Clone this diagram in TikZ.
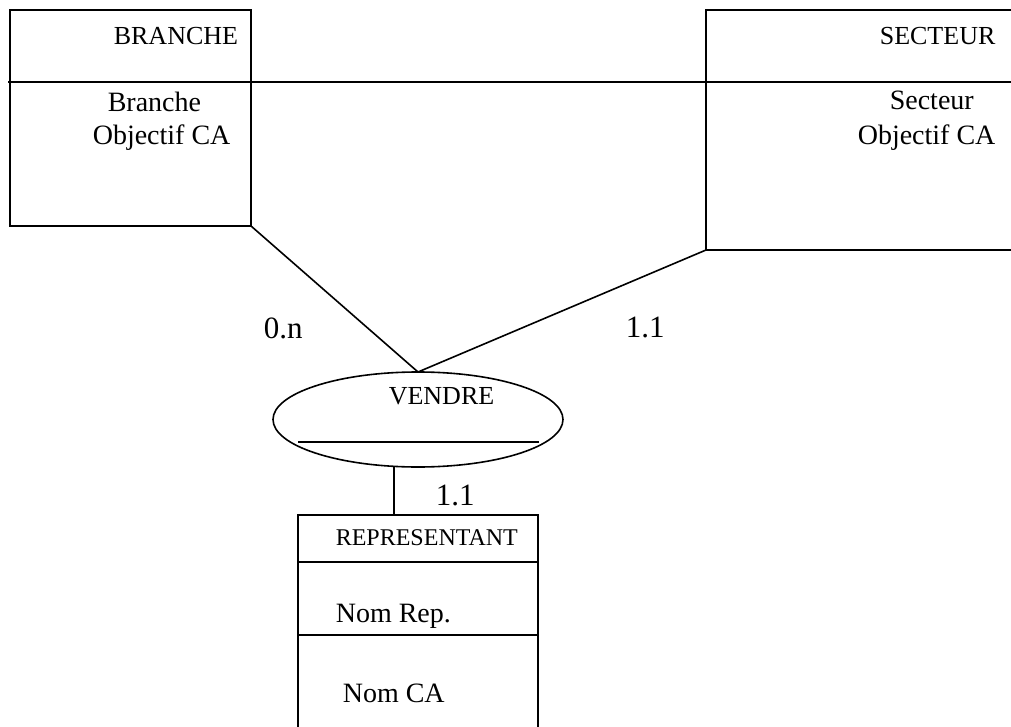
\documentclass[tikz,border=0pt]{standalone}
\usepackage{fontspec}
\setmainfont{Liberation Serif}
\usetikzlibrary{shapes.geometric,calc}
\begin{document}
\begin{tikzpicture}[x=1pt,y=-1pt,line width=1.6pt,
  box/.style={draw,rectangle,inner sep=0pt,outer sep=0pt},
  rel/.style={draw,ellipse,inner sep=0pt,outer sep=0pt},
  head/.style={font=\fontsize{26}{30}\selectfont,anchor=base west,inner sep=0pt},
  headsm/.style={font=\fontsize{24}{28}\selectfont,anchor=base west,inner sep=0pt},
  attr/.style={font=\fontsize{28}{32}\selectfont,anchor=base west,inner sep=0pt},
  card/.style={font=\fontsize{31}{36}\selectfont,anchor=base west,inner sep=0pt}]
\useasboundingbox (0,0) rectangle (1011,727);
\clip (0,0) rectangle (1011,727);
% entities
\node[box,minimum width=241pt,minimum height=216pt] (branche) at (130.5,118) {};
\node[box,minimum width=340pt,minimum height=240pt] (secteur) at (876,130) {};
\coordinate (sepL) at (8,82);
\coordinate (sepR) at (1011,82);
\draw (sepL) -- (sepR);
% relation
\node[rel,minimum width=290pt,minimum height=95pt] (vendre) at (418,419.5) {};
\coordinate (vlL) at (298,442);
\coordinate (vlR) at (539,442);
\draw (vlL) -- (vlR);
% representant
\node[box,minimum width=240pt,minimum height=260pt] (rep) at (418,645) {};
\coordinate (r1L) at (298,562);
\coordinate (r1R) at (538,562);
\coordinate (r2L) at (298,635);
\coordinate (r2R) at (538,635);
\draw (r1L) -- (r1R);
\draw (r2L) -- (r2R);
% connectors
\draw (branche.south east) -- (vendre.north);
\draw (secteur.south west) -- (vendre.north);
\coordinate (repc) at ($(rep.north west)+(96,0)$);
\draw (vendre.south -| repc) -- (repc);
% texts
\node[head] (tb) at (113,45) {BRANCHE};
\node[attr] (tb1) at (107,112) {Branche};
\node[attr] (tb2) at (92,145) {Objectif CA};
\node[head] (ts) at (879,45) {SECTEUR};
\node[attr] (ts1) at (889,110) {Secteur};
\node[attr] (ts2) at (857,145) {Objectif CA};
\node[head] (tv) at (388,404) {VENDRE};
\node[card] (c1) at (263,338) {0.n};
\node[card] (c2) at (625,337) {1.1};
\node[card] (c3) at (435,505) {1.1};
\node[headsm] (tr) at (335,545) {REPRESENTANT};
\node[attr] (tr1) at (335,622) {Nom Rep.};
\node[attr] (tr2) at (342,702) {Nom CA};
\end{tikzpicture}
\end{document}
